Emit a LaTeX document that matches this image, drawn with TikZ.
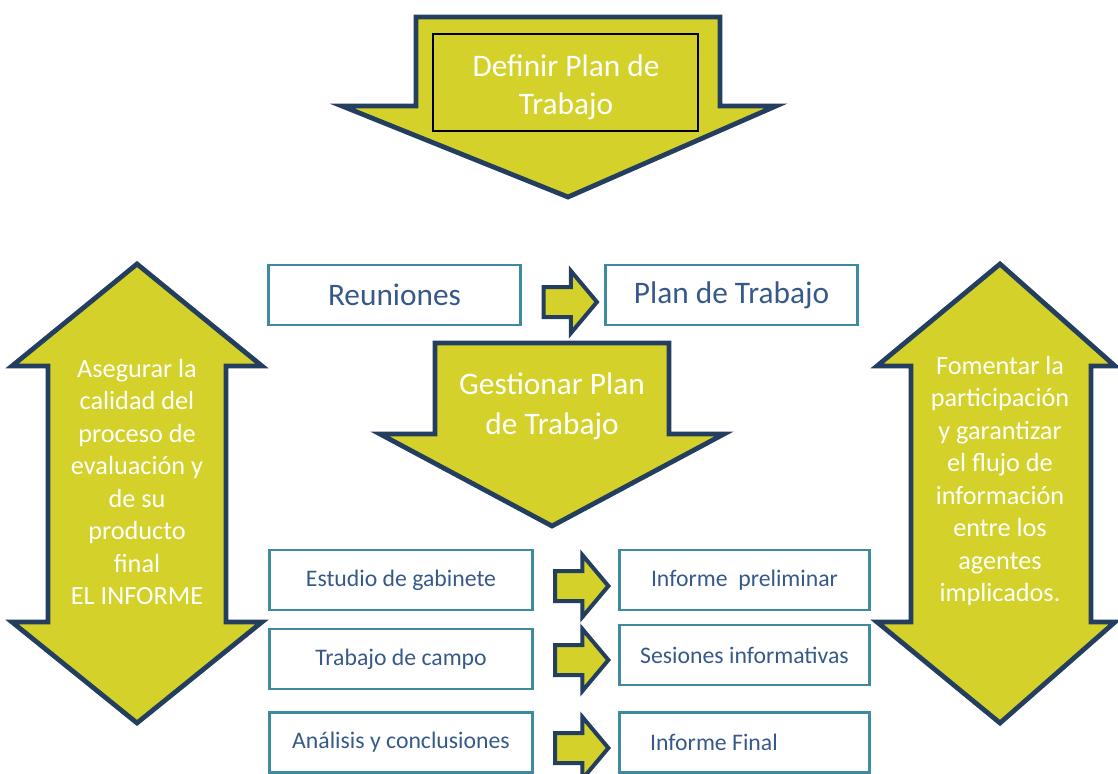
\documentclass[tikz,border=0pt]{standalone}
\usepackage{fontspec}
\setmainfont{Carlito}
\usepackage{tikz}
\usetikzlibrary{shapes.arrows,calc}
\definecolor{amarillo}{HTML}{D4D12A}
\definecolor{marino}{HTML}{243E60}
\definecolor{turquesa}{HTML}{3E8A9E}
\definecolor{azultexto}{HTML}{36598A}

\begin{document}
\begin{tikzpicture}[x=0.75pt,y=-0.75pt,
  bloque/.style={fill=amarillo, draw=marino, line width=3.6pt, line join=miter},
  caja/.style={draw=turquesa, line width=2pt, minimum height=45pt, text=azultexto, inner sep=0pt},
  flechita/.style={single arrow, fill=amarillo, draw=marino, line width=3pt, minimum height=40pt,
    minimum width=43.5pt, single arrow head extend=12pt, single arrow tip angle=100, inner sep=9.75pt},
  blanco/.style={text=white, align=center}]
  \useasboundingbox (0,0) rectangle (1118,774);

  % flechas grandes
  \draw[bloque] (416,17) -- (720,17) -- (720,106) -- (776,106) -- (568,197) -- (342,106) -- (416,106) -- cycle;
  \draw[bloque] (435,343) -- (669,343) -- (669,434) -- (724,434) -- (552,526) -- (380,434) -- (435,434) -- cycle;
  \draw[bloque] (137,264) -- (262,366) -- (226,366) -- (226,622) -- (262,622) -- (137,723)
    -- (12,622) -- (48,622) -- (48,366) -- (12,366) -- cycle;
  \draw[bloque] (1000,264) -- (1115,366) -- (1091,366) -- (1091,622) -- (1115,622) -- (1000,723)
    -- (877,622) -- (911,622) -- (911,366) -- (877,366) -- cycle;

  \node[draw=black, line width=1.2pt, minimum width=198.75pt, minimum height=72.75pt] (marco) at (565.5,82.5) {};
  \node[blanco, font=\fontsize{23.5}{28.5}\selectfont] (definir) at (566,87) {Definir Plan de\\Trabajo};
  \node[blanco, font=\fontsize{23.5}{30}\selectfont] (gestionar) at (552,406) {Gestionar Plan\\de Trabajo};
  \node[blanco, font=\fontsize{19.7}{24.4}\selectfont] (asegurar) at (137,482)
    {Asegurar la\\calidad del\\proceso de\\evaluación y\\de su\\producto\\final\\EL INFORME};
  \node[blanco, font=\fontsize{19.7}{24.4}\selectfont] (fomentar) at (1000,481)
    {Fomentar la\\participación\\y garantizar\\el flujo de\\información\\entre los\\agentes\\implicados.};

  % cajas
  \node[caja, minimum width=189pt, font=\fontsize{23.5}{28}\selectfont] (reun) at (394.5,295) {Reuniones};
  \node[caja, minimum width=189pt, font=\fontsize{23.5}{28}\selectfont] (plan) at (731.5,295) {Plan de Trabajo};

  \node[caja, minimum width=197pt, font=\fontsize{17.8}{21}\selectfont] (estudio) at (401,580) {Estudio de gabinete};
  \node[caja, minimum width=197pt, font=\fontsize{17.8}{21}\selectfont] (campo) at (401,659) {Trabajo de campo};
  \node[caja, minimum width=197pt, font=\fontsize{17.8}{21}\selectfont] (analisis) at (401,742.5) {Análisis y conclusiones};
  \node[caja, minimum width=187.5pt, font=\fontsize{17.8}{21}\selectfont] (prelim) at (744.5,580) {Informe\ \ preliminar};
  \node[caja, minimum width=187.5pt, font=\fontsize{17.8}{21}\selectfont] (sesiones) at (744.5,655) {Sesiones informativas};
  \node[caja, minimum width=187.5pt, font=\fontsize{17.8}{21}\selectfont] (final) at (744.5,742.5)
    {\makebox[141.5pt][l]{Informe Final}};

  % flechas entre cajas
  \node[flechita] (f0) at ($(reun.east)!0.5!(plan.west)+(1,7)$) {};
  \node[flechita] (f1) at ($(estudio.east)!0.5!(prelim.west)+(-0.5,6)$) {};
  \node[flechita] (f2) at ($(campo.east)!0.5!(sesiones.west)+(-0.5,3)$) {};
  \node[flechita] (f3) at ($(analisis.east)!0.5!(final.west)+(-0.5,5.5)$) {};
\end{tikzpicture}
\end{document}
